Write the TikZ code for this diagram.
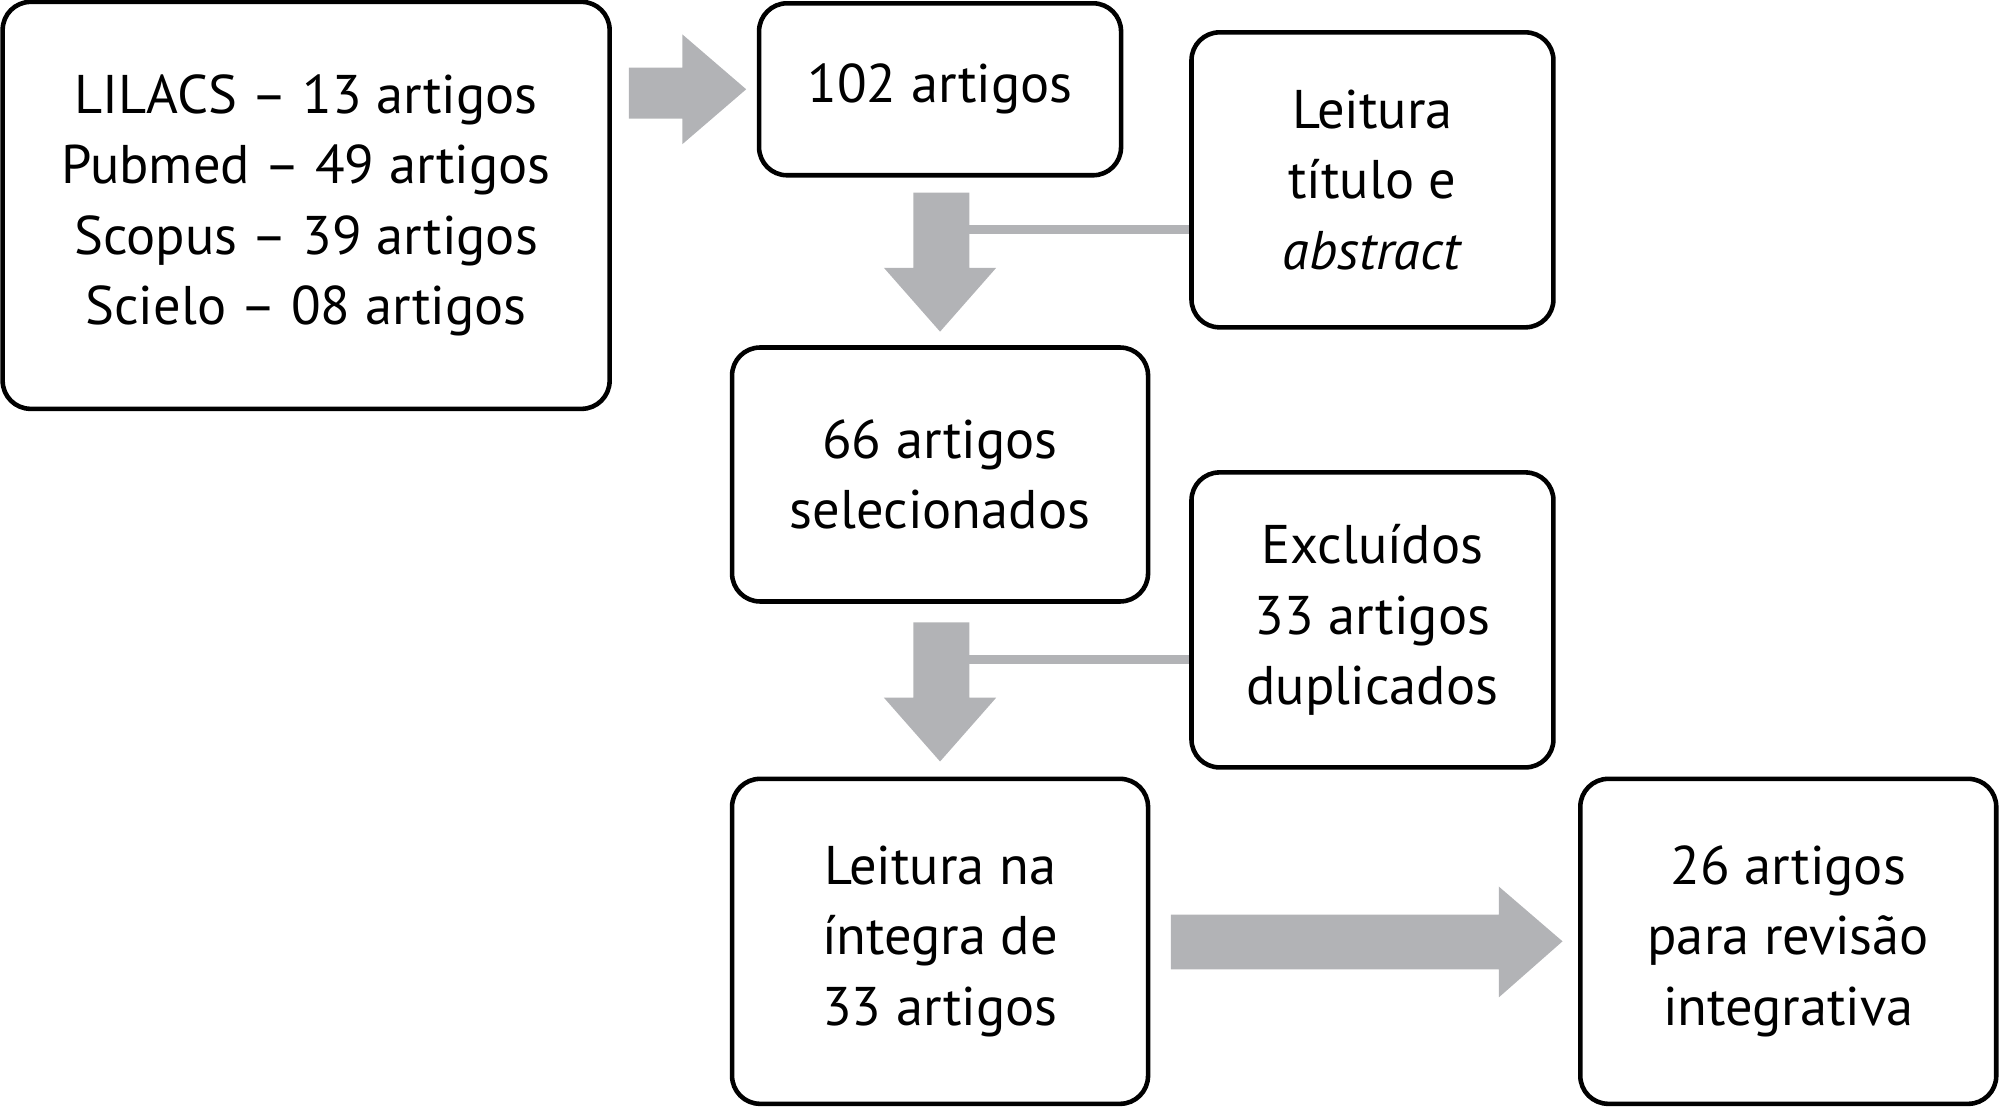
\documentclass[tikz,border=0pt]{standalone}
\usepackage{fontspec}
\setmainfont{PT Sans}
\definecolor{arrowgray}{RGB}{178,179,182}
\begin{document}
\begin{tikzpicture}[x=0.012755cm, y=-0.012755cm,
                every node/.style={draw=black, line width=1.3pt, rounded corners=0.28cm, align=center,
                                   font=\fontsize{15.5}{20}\selectfont, inner sep=0pt},
                fatarrow/.style={fill=arrowgray, draw=none},
                sideline/.style={draw=arrowgray, line width=2.6pt}]

                \useasboundingbox (0,0) rectangle (1568,869);

                \node[minimum width=6.07cm, minimum height=4.07cm] (bases) at (240,161)
                    {LILACS -- 13 artigos\\Pubmed -- 49 artigos\\Scopus -- 39 artigos\\Scielo -- 08 artigos};
                \node[minimum width=3.62cm, minimum height=1.72cm] (total) at (737,70) {102 artigos};
                \node[minimum width=3.62cm, minimum height=2.95cm] (leitura) at (1076,141) {Leitura\\título e\\\textit{abstract}};
                \node[minimum width=4.16cm, minimum height=2.54cm] (selec) at (737,372) {66 artigos\\selecionados};
                \node[minimum width=3.62cm, minimum height=2.95cm] (excl) at (1076,486) {Excluídos\\33 artigos\\duplicados};
                \node[minimum width=4.16cm, minimum height=3.25cm] (integra) at (737,738) {Leitura na\\íntegra de\\33 artigos};
                \node[minimum width=4.16cm, minimum height=3.25cm] (final) at (1402,738) {26 artigos\\para revisão\\integrativa};

                % arrows
                \path[fatarrow] (493,53) -- (535,53) -- (535,27) -- (585,70) -- (535,113) -- (535,93) -- (493,93) -- cycle;
                \path[fatarrow] (716,151) -- (760,151) -- (760,210) -- (781,210) -- (737,260) -- (693,210) -- (716,210) -- cycle;
                \path[fatarrow] (716,488) -- (760,488) -- (760,547) -- (781,547) -- (737,597) -- (693,547) -- (716,547) -- cycle;
                \path[fatarrow] (918,717) -- (1175,717) -- (1175,695) -- (1225,738) -- (1175,782) -- (1175,760) -- (918,760) -- cycle;

                \draw[sideline] (760,180) -- (leitura.west |- 760,180);
                \draw[sideline] (760,517) -- (excl.west |- 760,517);
\end{tikzpicture}
\end{document}
